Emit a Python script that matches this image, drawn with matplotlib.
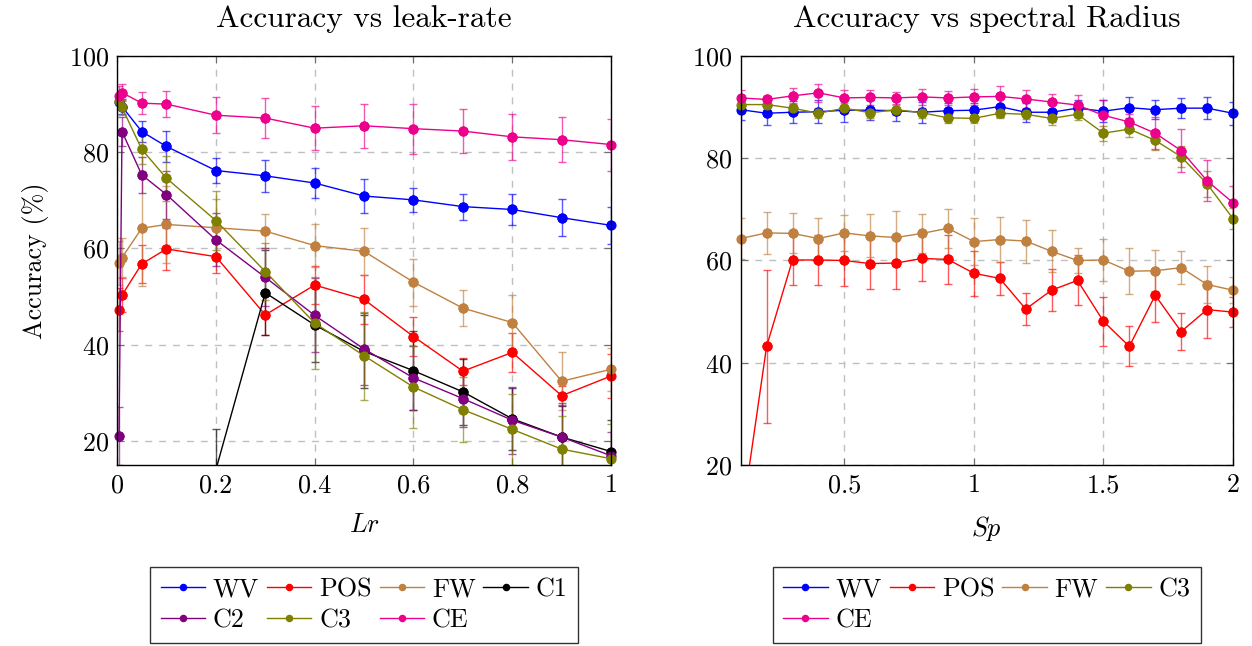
import matplotlib
matplotlib.use('Agg')
import matplotlib.pyplot as plt
from matplotlib.ticker import FuncFormatter

plt.rcParams['font.family'] = 'cmr10'
plt.rcParams['mathtext.fontset'] = 'cm'
plt.rcParams['axes.formatter.use_mathtext'] = True
plt.rcParams['font.size'] = 18.8

# ---- leak-rate data ----
lr = [0.004, 0.01, 0.05, 0.1, 0.2, 0.3, 0.4, 0.5, 0.6, 0.7, 0.8, 0.9, 1.0]
lr_c1 = [0.2, 0.3, 0.4, 0.5, 0.6, 0.7, 0.8, 0.9, 1.0]

lr_wv = [90.4, 89.5, 84.3, 81.2, 76.2, 75.1, 73.6, 70.9, 70.1, 68.7, 68.1, 66.4, 64.8]
lr_wv_err = [1.5, 1.5, 2.1, 3.3, 2.5, 3.3, 3.2, 3.5, 2.5, 2.7, 3.3, 3.9, 3.9]
lr_pos = [47.3, 50.3, 56.8, 59.9, 58.3, 46.2, 52.4, 49.4, 41.7, 34.5, 38.4, 29.4, 33.5]
lr_pos_err = [4.4, 3.5, 4.0, 4.4, 3.4, 4.2, 3.9, 5.0, 4.0, 2.8, 4.0, 2.0, 4.5]
lr_fw = [57.0, 58.1, 64.2, 65.0, 64.3, 63.6, 60.6, 59.4, 53.0, 47.6, 44.6, 32.4, 34.9]
lr_fw_err = [4.5, 4.0, 12.0, 8.0, 6.0, 3.6, 4.5, 4.9, 4.9, 3.8, 5.8, 6.0, 4.5]
lr_c1v = [14.0, 50.8, 44.1, 38.6, 34.6, 30.2, 24.6, 20.8, 17.8]
lr_c1_err = [8.5, 8.8, 7.7, 7.5, 8.2, 6.9, 6.4, 6.5, 6.6]
lr_c2 = [21.1, 84.3, 75.3, 71.2, 61.8, 54.0, 46.1, 39.1, 33.1, 28.8, 24.3, 20.8, 16.9]
lr_c2_err = [6.0, 3.0, 3.7, 5.0, 5.5, 6.0, 7.7, 7.4, 6.6, 6.0, 7.0, 7.0, 5.0]
lr_c3 = [90.6, 89.3, 80.6, 74.6, 65.8, 55.2, 44.5, 37.7, 31.2, 26.5, 22.4, 18.3, 16.3]
lr_c3_err = [1.5, 1.5, 3.0, 4.7, 6.1, 6.0, 9.6, 9.1, 8.5, 6.7, 7.4, 6.9, 7.3]
lr_ce = [91.7, 92.4, 90.2, 90.0, 87.7, 87.1, 85.0, 85.5, 84.9, 84.4, 83.2, 82.6, 81.6]
lr_ce_err = [2.0, 1.8, 2.3, 2.7, 3.7, 4.2, 4.6, 4.6, 5.2, 4.5, 4.8, 4.7, 5.4]

# ---- spectral radius data ----
sp = [0.1, 0.2, 0.3, 0.4, 0.5, 0.6, 0.7, 0.8, 0.9, 1.0,
      1.1, 1.2, 1.3, 1.4, 1.5, 1.6, 1.7, 1.8, 1.9, 2.0]
sp_wv = [89.5, 88.8, 89.0, 89.1, 89.4, 89.4, 89.3, 89.0, 89.3, 89.4,
         90.1, 89.0, 89.0, 89.8, 89.2, 89.9, 89.5, 89.8, 89.8, 88.8]
sp_wv_err = [2.1, 2.2, 2.2, 2.3, 2.4, 2.0, 2.0, 2.1, 1.5, 1.5,
             2.0, 1.9, 2.0, 1.5, 2.2, 2.0, 1.8, 2.0, 2.1, 2.3]
sp_pos = [8.0, 43.2, 60.1, 60.1, 60.0, 59.4, 59.5, 60.4, 60.2, 57.5,
          56.5, 50.5, 54.2, 56.1, 48.1, 43.2, 53.2, 46.1, 50.4, 49.9]
sp_pos_err = [3.0, 14.9, 4.9, 4.8, 5.0, 5.0, 5.0, 4.5, 4.7, 4.4,
              3.3, 3.1, 4.1, 4.9, 4.8, 3.9, 5.2, 3.6, 5.6, 3.0]
sp_fw = [64.3, 65.4, 65.3, 64.3, 65.4, 64.8, 64.5, 65.3, 66.3, 63.7,
         64.1, 63.8, 61.8, 60.0, 60.1, 57.9, 58.0, 58.6, 55.3, 54.2]
sp_fw_err = [4.0, 4.1, 3.9, 4.0, 3.5, 4.2, 5.2, 3.8, 3.8, 4.6,
             4.4, 4.2, 4.1, 2.5, 4.2, 4.5, 4.0, 3.2, 3.7, 2.5]
sp_c3 = [90.5, 90.5, 89.8, 88.8, 89.8, 88.9, 89.5, 88.9, 87.9, 87.8,
         88.8, 88.6, 87.8, 88.6, 84.9, 85.7, 83.5, 80.3, 75.0, 68.2]
sp_c3_err = [1.0, 1.0, 1.0, 1.0, 1.0, 1.0, 1.0, 1.0, 1.0, 1.0,
             1.0, 1.0, 1.2, 1.2, 1.5, 1.6, 1.9, 2.0, 2.5, 2.0]
sp_ce = [91.8, 91.5, 92.2, 92.8, 91.8, 91.9, 91.8, 92.0, 91.8, 92.0,
         92.1, 91.6, 91.0, 90.4, 88.4, 87.1, 84.9, 81.5, 75.6, 71.3]
sp_ce_err = [1.5, 0.7, 1.6, 1.7, 1.5, 1.4, 1.2, 1.6, 1.4, 1.5,
             2.1, 1.8, 1.5, 1.9, 3.0, 1.5, 3.1, 4.2, 4.0, 3.3]

colors = {'WV': '#0000ff', 'POS': '#ff0000', 'FW': '#bf8040', 'C1': '#000000',
          'C2': '#800080', 'C3': '#808000', 'CE': '#ec008c'}


def draw(ax, x, y, err, name):
    c = ax.errorbar(x, y, yerr=err, fmt='-o', color=colors[name], ecolor=colors[name],
                    elinewidth=1.0, capsize=3.2, capthick=1.0, lw=1.0, ms=6.3)
    for part in c[1] + c[2]:
        part.set_alpha(0.65)
    c[0].set_label(name)
    # markers on the border are not cut, like pgfplots does
    lo, hi = ax.get_ylim()
    xin = [a for a, b in zip(x, y) if lo <= b <= hi]
    yin = [b for b in y if lo <= b <= hi]
    ax.plot(xin, yin, 'o', color=colors[name], ms=6.3, clip_on=False)
    return c[0]


def style(ax):
    ax.grid(True, ls=(0, (5, 5)), color='#c0c0c0', lw=1.0)
    ax.tick_params(direction='in', top=True, right=True, length=5, width=0.8,
                   color='#707070', pad=6)
    for s in ax.spines.values():
        s.set_linewidth(1.0)
    ax.xaxis.set_major_formatter(FuncFormatter(lambda v, p: '%g' % v))


fig = plt.figure(figsize=(12.52, 6.46), dpi=100)
ax1 = fig.add_axes([0.0935, 0.2802, 0.3946, 0.6331])
ax2 = fig.add_axes([0.5916, 0.2802, 0.3932, 0.6331])

ax1.set_xlim(0, 1)
ax1.set_ylim(15, 100)
wv1 = draw(ax1, lr, lr_wv, lr_wv_err, 'WV')
pos1 = draw(ax1, lr, lr_pos, lr_pos_err, 'POS')
fw1 = draw(ax1, lr, lr_fw, lr_fw_err, 'FW')
c11 = draw(ax1, lr_c1, lr_c1v, lr_c1_err, 'C1')
c21 = draw(ax1, lr, lr_c2, lr_c2_err, 'C2')
c31 = draw(ax1, lr, lr_c3, lr_c3_err, 'C3')
ce1 = draw(ax1, lr, lr_ce, lr_ce_err, 'CE')
ax1.set_xlim(0, 1)
ax1.set_ylim(15, 100)
ax1.set_xticks([0, 0.2, 0.4, 0.6, 0.8, 1])
ax1.set_yticks([20, 40, 60, 80, 100])
style(ax1)
ax1.set_title('Accuracy vs leak-rate', pad=21)
ax1.set_xlabel('$Lr$', labelpad=12)
ax1.set_ylabel('Accuracy (%)', labelpad=14)

ax2.set_xlim(0.1, 2)
ax2.set_ylim(20, 100)
wv2 = draw(ax2, sp, sp_wv, sp_wv_err, 'WV')
pos2 = draw(ax2, sp, sp_pos, sp_pos_err, 'POS')
fw2 = draw(ax2, sp, sp_fw, sp_fw_err, 'FW')
c32 = draw(ax2, sp, sp_c3, sp_c3_err, 'C3')
ce2 = draw(ax2, sp, sp_ce, sp_ce_err, 'CE')
ax2.set_xlim(0.1, 2)
ax2.set_ylim(20, 100)
ax2.set_xticks([0.5, 1, 1.5, 2])
ax2.set_yticks([20, 40, 60, 80, 100])
style(ax2)
ax2.set_title('Accuracy vs spectral Radius', pad=21)
ax2.set_xlabel('$Sp$', labelpad=12)

# column-major order so the legend reads row by row
order1 = [wv1, c21, pos1, c31, fw1, ce1, c11]
order2 = [wv2, ce2, pos2, fw2, c32]
for ax, hs in ((ax1, order1), (ax2, order2)):
    leg = ax.legend(handles=hs, loc='upper center', bbox_to_anchor=(0.5, -0.249),
                    ncol=4, frameon=True, fancybox=False, edgecolor='black',
                    markerscale=0.7, handlelength=1.7, handletextpad=0.3,
                    columnspacing=0.3, labelspacing=0.3, borderpad=0.4,
                    borderaxespad=0)
    leg.get_frame().set_linewidth(1.0)

fig.savefig('out.png', dpi=100)
